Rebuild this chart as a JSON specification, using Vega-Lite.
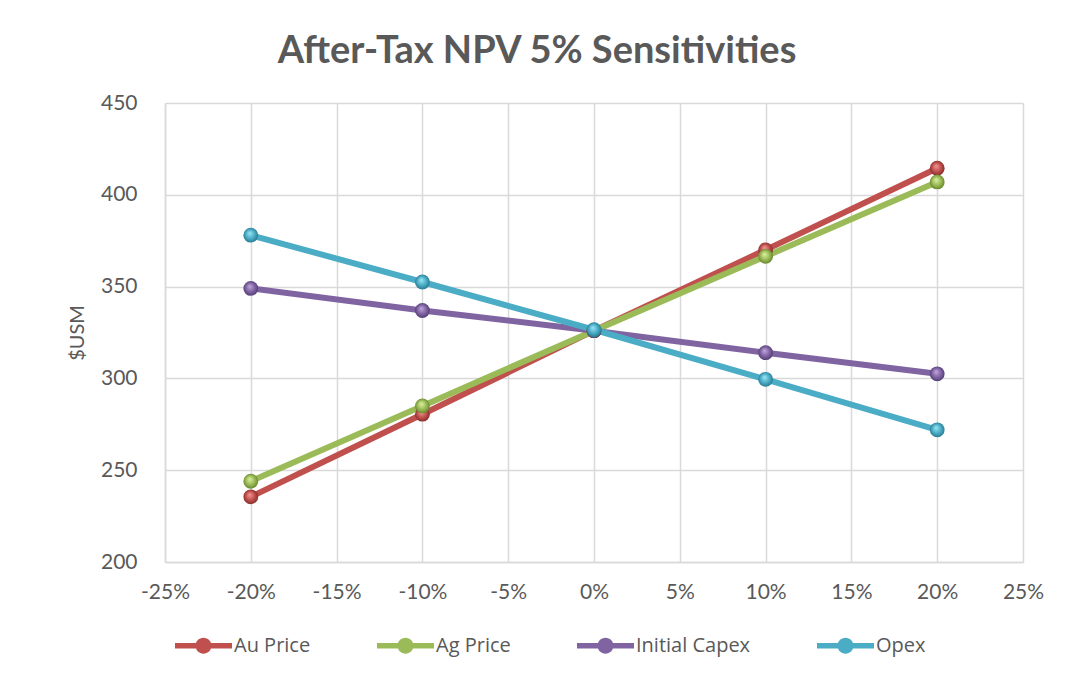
{
  "$schema": "https://vega.github.io/schema/vega-lite/v6.json",
  "width": 858,
  "height": 459,
  "autosize": {"type": "none"},
  "padding": {"left": 165, "top": 103, "right": 48, "bottom": 120},
  "background": "white",
  "title": {
    "text": "After-Tax NPV 5% Sensitivities",
    "fontSize": 38,
    "font": "Lato",
    "fontWeight": "bold",
    "color": "#595959",
    "dx": -57,
    "offset": 21
  },
  "data": {
    "values": [
      {"series": "Au Price", "change": -20, "npv": 235.5},
      {"series": "Au Price", "change": -10, "npv": 280.5},
      {"series": "Au Price", "change": 0, "npv": 326},
      {"series": "Au Price", "change": 10, "npv": 370},
      {"series": "Au Price", "change": 20, "npv": 414.5},
      {"series": "Ag Price", "change": -20, "npv": 244},
      {"series": "Ag Price", "change": -10, "npv": 285},
      {"series": "Ag Price", "change": 0, "npv": 326},
      {"series": "Ag Price", "change": 10, "npv": 366.5},
      {"series": "Ag Price", "change": 20, "npv": 407},
      {"series": "Initial Capex", "change": -20, "npv": 349},
      {"series": "Initial Capex", "change": -10, "npv": 337},
      {"series": "Initial Capex", "change": 0, "npv": 326},
      {"series": "Initial Capex", "change": 10, "npv": 314},
      {"series": "Initial Capex", "change": 20, "npv": 302.5},
      {"series": "Opex", "change": -20, "npv": 378},
      {"series": "Opex", "change": -10, "npv": 352.5},
      {"series": "Opex", "change": 0, "npv": 326.5},
      {"series": "Opex", "change": 10, "npv": 299.5},
      {"series": "Opex", "change": 20, "npv": 272}
    ]
  },
  "encoding": {
    "x": {
      "field": "change",
      "type": "quantitative",
      "scale": {"domain": [-25, 25], "nice": false, "zero": false},
      "axis": {
        "values": [-25, -20, -15, -10, -5, 0, 5, 10, 15, 20, 25],
        "labelExpr": "datum.value + '%'",
        "title": null,
        "grid": true,
        "gridColor": "#d9d9d9",
        "gridWidth": 1.5,
        "domainColor": "#d9d9d9",
        "domainWidth": 1.5,
        "ticks": false,
        "labelPadding": 19,
        "labelFontSize": 21,
        "labelFont": "Lato",
        "labelColor": "#595959",
        "labelFlush": false
      }
    },
    "y": {
      "field": "npv",
      "type": "quantitative",
      "scale": {"domain": [200, 450], "nice": false, "zero": false},
      "axis": {
        "values": [200, 250, 300, 350, 400, 450],
        "title": "$USM",
        "titleFont": "Lato",
        "titleFontSize": 20,
        "titleFontWeight": "normal",
        "titleColor": "#595959",
        "titlePadding": 13,
        "grid": true,
        "gridColor": "#d9d9d9",
        "gridWidth": 1.5,
        "domainColor": "#d9d9d9",
        "domainWidth": 1.5,
        "ticks": false,
        "labelPadding": 28,
        "labelFontSize": 21,
        "labelFont": "Lato",
        "labelColor": "#595959"
      }
    },
    "color": {
      "field": "series",
      "type": "nominal",
      "scale": {
        "domain": ["Au Price", "Ag Price", "Initial Capex", "Opex"],
        "range": ["#c0504d", "#9bbb59", "#8064a2", "#4bacc6"]
      },
      "legend": {
        "title": null,
        "orient": "bottom",
        "direction": "horizontal",
        "offset": 5,
        "padding": 10,
        "symbolType": "M-1,-0.1L1,-0.1L1,0.1L-1,0.1Z M0.28,0A0.28,0.28 0 1,1 -0.28,0A0.28,0.28 0 1,1 0.28,0Z",
        "symbolSize": 3249,
        "symbolStrokeWidth": 0,
        "labelFont": "Open Sans",
        "labelFontSize": 20,
        "labelColor": "#595959",
        "labelOffset": 2,
        "columnPadding": 66,
        "encode": {
          "symbols": {"update": {"fill": {"scale": "color", "field": "value"}, "opacity": {"value": 1}}}
        }
      }
    }
  },
  "layer": [
    {
      "transform": [{"filter": {"field": "series", "equal": "Au Price"}}],
      "mark": {"type": "line", "strokeWidth": 6, "strokeCap": "round"}
    },
    {
      "transform": [{"filter": {"field": "series", "equal": "Ag Price"}}],
      "mark": {"type": "line", "strokeWidth": 6, "strokeCap": "round"}
    },
    {
      "transform": [{"filter": {"field": "series", "equal": "Initial Capex"}}],
      "mark": {"type": "line", "strokeWidth": 6, "strokeCap": "round"}
    },
    {
      "transform": [{"filter": {"field": "series", "equal": "Opex"}}],
      "mark": {"type": "line", "strokeWidth": 6, "strokeCap": "round"}
    },
    {
      "transform": [{"filter": {"field": "series", "equal": "Au Price"}}],
      "mark": {"type": "point", "filled": true, "size": 220, "opacity": 1, "strokeWidth": 0},
      "encoding": {"color": {"value": {"gradient": "radial", "x1": 0.42, "y1": 0.35, "r1": 0, "x2": 0.5, "y2": 0.5, "r2": 0.55, "stops": [{"offset": 0, "color": "#f59a96"}, {"offset": 0.55, "color": "#c0504d"}, {"offset": 1, "color": "#7e2826"}]}}}
    },
    {
      "transform": [{"filter": {"field": "series", "equal": "Ag Price"}}],
      "mark": {"type": "point", "filled": true, "size": 220, "opacity": 1, "strokeWidth": 0},
      "encoding": {"color": {"value": {"gradient": "radial", "x1": 0.42, "y1": 0.35, "r1": 0, "x2": 0.5, "y2": 0.5, "r2": 0.55, "stops": [{"offset": 0, "color": "#dcf2a0"}, {"offset": 0.55, "color": "#9bbb59"}, {"offset": 1, "color": "#5f7e26"}]}}}
    },
    {
      "transform": [{"filter": {"field": "series", "equal": "Initial Capex"}}],
      "mark": {"type": "point", "filled": true, "size": 220, "opacity": 1, "strokeWidth": 0},
      "encoding": {"color": {"value": {"gradient": "radial", "x1": 0.42, "y1": 0.35, "r1": 0, "x2": 0.5, "y2": 0.5, "r2": 0.55, "stops": [{"offset": 0, "color": "#c2a8e2"}, {"offset": 0.55, "color": "#8064a2"}, {"offset": 1, "color": "#4c376d"}]}}}
    },
    {
      "transform": [{"filter": {"field": "series", "equal": "Opex"}}],
      "mark": {"type": "point", "filled": true, "size": 220, "opacity": 1, "strokeWidth": 0},
      "encoding": {"color": {"value": {"gradient": "radial", "x1": 0.42, "y1": 0.35, "r1": 0, "x2": 0.5, "y2": 0.5, "r2": 0.55, "stops": [{"offset": 0, "color": "#9ae8f7"}, {"offset": 0.55, "color": "#4bacc6"}, {"offset": 1, "color": "#237389"}]}}}
    }
  ],
  "config": {"view": {"stroke": null}}
}
